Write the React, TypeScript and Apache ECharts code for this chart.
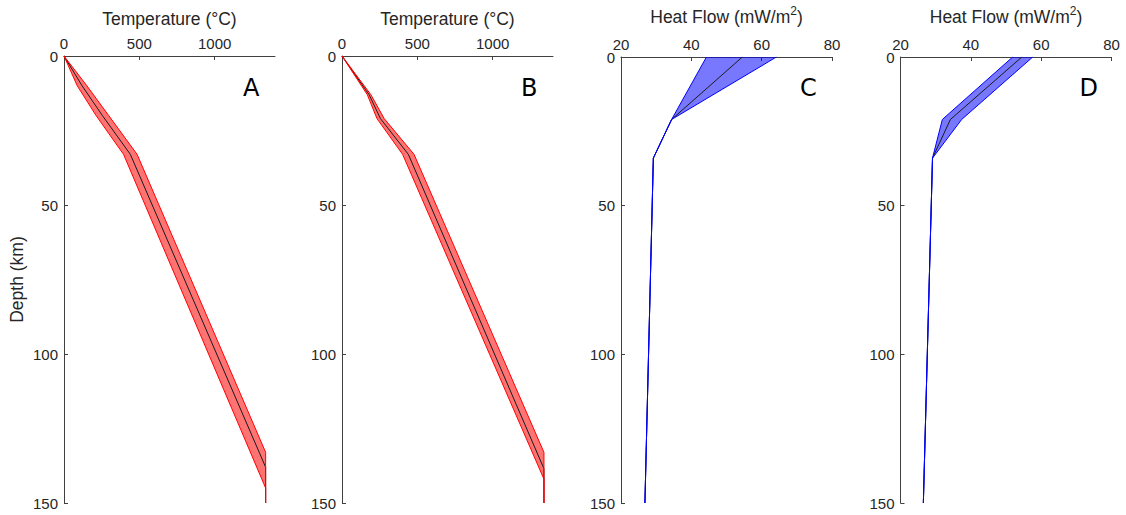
import React, { useEffect, useRef } from "react";
import * as echarts from "echarts";

// Panel A – temperature (°C) vs depth (km)
const centerDepthA = [0, 10, 20, 33, 138, 150];
const centerTempA = [0, 120, 255, 440, 1338, 1338];
const hotDepthA = [0, 10, 20, 33, 133, 150];
const hotTempA = [0, 152, 297, 485, 1338, 1338];
const coldDepthA = [0, 10, 20, 33, 145, 150];
const coldTempA = [0, 88, 213, 395, 1338, 1338];

// Panel B
const centerDepthB = [0, 13, 21, 33, 138.5, 150];
const centerTempB = [0, 180, 255, 440, 1340, 1340];
const hotDepthB = [0, 13, 21, 33, 133, 150];
const hotTempB = [0, 192, 280, 478, 1340, 1340];
const coldDepthB = [0, 13, 21, 33, 142, 150];
const coldTempB = [0, 168, 232, 402, 1340, 1340];

// Panel C – heat flow (mW/m²) vs depth
const depthC = [0, 21, 34, 150];
const centerC = [54.5, 34.4, 29.2, 26.8];
const hotC = [64.2, 34.4, 29.2, 26.8];
const coldC = [44.3, 34.4, 29.2, 26.8];

// Panel D
const depthD = [0, 21, 34, 150];
const centerD = [54.5, 34.2, 29.1, 26.5];
const hotD = [57.6, 37.4, 29.1, 26.5];
const coldD = [51.9, 31.9, 29.1, 26.5];

const depthTicks = [0, 50, 100, 150];
const tempTicks = [0, 500, 1000];
const hfTicks = [20, 40, 60, 80];
const panelLetters = ["A", "B", "C", "D"];

const FONT = "'Liberation Sans', Arial, Helvetica, sans-serif";
const TXT = "#262626";
const AX = "#404040";

function pairs(xs: number[], ys: number[]) {
  return xs.map((x, i) => [x, ys[i]]);
}

export default function App() {
  const ref = useRef<HTMLDivElement>(null);
  useEffect(() => {
    document.body.style.margin = "0";
    const chart = echarts.init(ref.current!, null, { renderer: "svg" });

    const panels = [
      {
        left: 64, xmin: 0, xmax: 1400, ticks: tempTicks, name: "Temperature (°C)",
        center: pairs(centerTempA, centerDepthA), hot: pairs(hotTempA, hotDepthA), cold: pairs(coldTempA, coldDepthA),
        fill: "rgba(255,0,0,0.55)", edge: "#ff0000",
      },
      {
        left: 342, xmin: 0, xmax: 1400, ticks: tempTicks, name: "Temperature (°C)",
        center: pairs(centerTempB, centerDepthB), hot: pairs(hotTempB, hotDepthB), cold: pairs(coldTempB, coldDepthB),
        fill: "rgba(255,0,0,0.55)", edge: "#ff0000",
      },
      {
        left: 621, xmin: 20, xmax: 80, ticks: hfTicks, name: "Heat Flow (mW/m{sup|2})",
        center: pairs(centerC, depthC), hot: pairs(hotC, depthC), cold: pairs(coldC, depthC),
        fill: "rgba(0,0,255,0.53)", edge: "#0000ff",
      },
      {
        left: 900.5, xmin: 20, xmax: 80, ticks: hfTicks, name: "Heat Flow (mW/m{sup|2})",
        center: pairs(centerD, depthD), hot: pairs(hotD, depthD), cold: pairs(coldD, depthD),
        fill: "rgba(0,0,255,0.53)", edge: "#0000ff",
      },
    ];

    const grid: any[] = [];
    const xAxis: any[] = [];
    const yAxis: any[] = [];
    const series: any[] = [];
    const graphic: any[] = [];

    panels.forEach((p, i) => {
      grid.push({ left: p.left, top: 56, width: 211, height: 447, containLabel: false });
      xAxis.push({
        type: "value", gridIndex: i, position: "top", min: p.xmin, max: p.xmax,
        name: p.name, nameLocation: "middle", nameGap: 28,
        nameTextStyle: {
          fontFamily: FONT, fontSize: 17.5, color: TXT,
          rich: { sup: { fontFamily: FONT, fontSize: 12, color: TXT, padding: [0, 0, 12, 0] } },
        },
        axisLine: { show: true, lineStyle: { color: AX, width: 1 } },
        axisTick: { show: true, inside: true, length: 4, customValues: p.ticks, lineStyle: { color: AX } },
        axisLabel: {
          show: true, customValues: p.ticks, fontFamily: FONT, fontSize: 15, color: TXT, margin: 5,
          formatter: (v: number) => String(v),
        },
        splitLine: { show: false },
      });
      yAxis.push({
        type: "value", gridIndex: i, inverse: true, min: 0, max: 150, interval: 50,
        name: i === 0 ? "Depth (km)" : "", nameLocation: "middle", nameGap: 38,
        nameTextStyle: { fontFamily: FONT, fontSize: 17.5, color: TXT },
        axisLine: { show: true, lineStyle: { color: AX, width: 1 } },
        axisTick: { show: true, inside: true, length: 4, customValues: depthTicks, lineStyle: { color: AX } },
        axisLabel: {
          show: true, customValues: depthTicks, fontFamily: FONT, fontSize: 15, color: TXT, margin: 6,
          formatter: (v: number) => String(v),
        },
        splitLine: { show: false },
      });
      const poly = [...p.hot, ...p.cold.slice().reverse()];
      series.push({
        type: "custom", xAxisIndex: i, yAxisIndex: i, z: 1, silent: true,
        data: [[p.xmin, 0]],
        renderItem: (params: any, api: any) => ({
          type: "polygon",
          shape: { points: poly.map((pt) => api.coord(pt)) },
          style: { fill: p.fill, stroke: "none" },
        }),
      });
      series.push({
        type: "line", xAxisIndex: i, yAxisIndex: i, z: 2, data: p.center, symbol: "none", silent: true,
        lineStyle: { color: "#1a1a1a", width: 1 },
      });
      series.push({
        type: "line", xAxisIndex: i, yAxisIndex: i, z: 3, data: p.hot, symbol: "none", silent: true,
        lineStyle: { color: p.edge, width: 1 },
      });
      series.push({
        type: "line", xAxisIndex: i, yAxisIndex: i, z: 3, data: p.cold, symbol: "none", silent: true,
        lineStyle: { color: p.edge, width: 1 },
      });
      graphic.push({
        type: "text", left: p.left + 179, top: 76,
        style: { text: panelLetters[i], fontFamily: "'Comic Sans MS', 'DejaVu Sans', sans-serif", fontSize: 24, fill: "#000" },
      });
    });

    chart.setOption({
      animation: false,
      backgroundColor: "#fff",
      grid, xAxis, yAxis, series, graphic,
    });
    return () => chart.dispose();
  }, []);
  return <div ref={ref} style={{ width: 1126, height: 515 }} />;
}
